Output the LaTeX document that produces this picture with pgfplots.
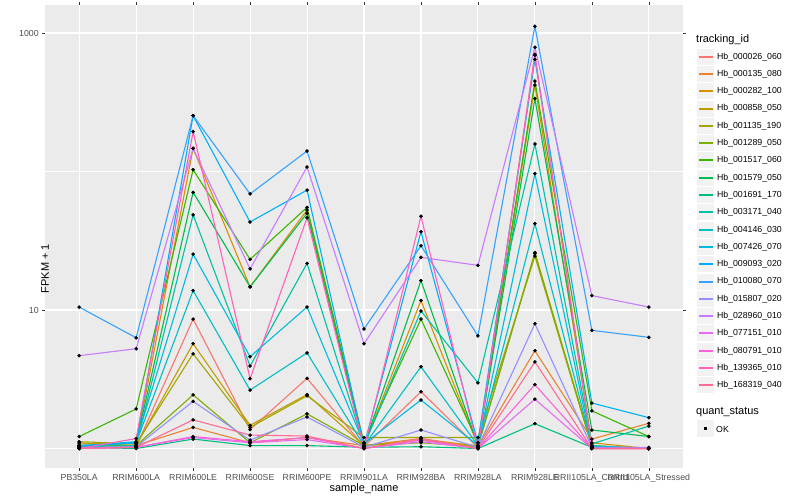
\documentclass[border=0pt]{standalone}
\usepackage{fontspec}
\setmainfont{Liberation Sans}
\usepackage{pgfplots}
\usepackage{pgfplotstable}
\pgfplotsset{compat=1.18}

\definecolor{c1}{HTML}{F8766D}
\definecolor{c2}{HTML}{EA8331}
\definecolor{c3}{HTML}{D89000}
\definecolor{c4}{HTML}{C09B00}
\definecolor{c5}{HTML}{A3A500}
\definecolor{c6}{HTML}{7CAE00}
\definecolor{c7}{HTML}{39B600}
\definecolor{c8}{HTML}{00BB4E}
\definecolor{c9}{HTML}{00BF7D}
\definecolor{c10}{HTML}{00C1A3}
\definecolor{c11}{HTML}{00BFC4}
\definecolor{c12}{HTML}{00BAE0}
\definecolor{c13}{HTML}{00B0F6}
\definecolor{c14}{HTML}{35A2FF}
\definecolor{c15}{HTML}{9590FF}
\definecolor{c16}{HTML}{C77CFF}
\definecolor{c17}{HTML}{E76BF3}
\definecolor{c18}{HTML}{FA62DB}
\definecolor{c19}{HTML}{FF62BC}
\definecolor{c20}{HTML}{FF6C91}
\definecolor{panel}{HTML}{EBEBEB}
\definecolor{keybg}{HTML}{F2F2F2}
\definecolor{gray30}{HTML}{4D4D4D}
\definecolor{gray20}{HTML}{333333}

% FPKM + 1 per sample (rows) and tracking_id (columns s1..s20)
\pgfplotstableread{
x  s1   s2   s3   s4   s5   s6   s7   s8   s9   s10  s11  s12  s13  s14   s15  s16   s17  s18  s19  s20
0  1.02 1.05 1.08 1.10 1.12 1.05 1.22 1.05 1.02 1.03 1.03 1.04 1.05 10.5  1.02 4.68  1.00 1.00 1.00 1.00
1  1.03 1.05 1.08 1.05 1.08 1.05 1.93 1.10 1.00 1.05 1.10 1.12 1.10 6.30  1.03 5.25  1.02 1.02 1.18 1.02
2  8.60 1.42 147  5.71 4.83 2.44 103  70.8 1.17 48.7 13.8 25.3 253  253   2.19 147   1.20 1.22 194  1.61
3  1.37 1.10 14.7 1.47 1.42 1.10 23.2 14.7 1.05 3.94 2.64 4.60 43.2 68.9  1.15 19.8  1.10 1.12 3.19 1.25
4  3.21 1.20 52.7 2.45 2.40 1.78 55.1 49.9 1.05 21.7 4.90 10.5 73.4 140.6 1.69 107.7 1.16 1.20 46.3 1.23
5  1.03 1.05 1.05 1.05 1.20 1.05 1.10 1.05 1.02 1.05 1.05 1.08 1.05 7.30  1.02 5.70  1.00 1.00 1.00 1.00
6  2.57 1.18 11.7 1.15 1.20 1.10 8.60 16.3 1.03 9.84 3.89 2.24 36.7 29.1  1.36 24.0  1.12 1.15 47.5 1.18
7  1.02 1.03 1.05 1.05 1.20 1.03 1.10 1.05 1.00 2.98 1.05 1.05 1.10 6.50  1.02 21.0  1.00 1.00 1.00 1.00
8  700  5.08 420  25.5 24.5 26.0 450  336  1.51 158  42.0 96.4 645  1117  7.96 789   2.27 2.89 690  4.22
9  1.02 1.17 1.10 1.05 1.03 1.04 1.87 1.36 1.02 1.08 1.05 1.03 2.13 7.13  1.02 12.7  1.00 1.00 1.00 1.00
10 1.00 1.52 1.00 1.00 1.00 1.00 1.22 1.22 1.00 1.45 1.00 1.00 1.67 6.35  1.02 10.5  1.00 1.00 1.00 1.00
}\data

\begin{document}
\begin{tikzpicture}
\path[use as bounding box] (0,0) rectangle (800bp,500bp);
\begin{axis}[
  at={(45bp,32bp)}, anchor=south west,
  scale only axis, width=638bp, height=463bp,
  ymode=log,
  xmin=-0.6, xmax=10.6,
  ymin=0.7232, ymax=1593,
  axis background/.style={fill=panel},
  axis line style={draw=none},
  xtick={0,...,10},
  xticklabels={PB350LA,RRIM600LA,RRIM600LE,RRIM600SE,RRIM600PE,RRIM901LA,RRIM928BA,RRIM928LA,RRIM928LE,RRII105LA\_Control,RRII105LA\_Stressed},
  ytick={10,1000}, yticklabels={10,1000},
  minor ytick={1,100},
  xmajorgrids, ymajorgrids, yminorgrids,
  major grid style={white, line width=1.07bp},
  minor grid style={white, line width=0.53bp},
  tick align=outside, major tick length=2.75bp, minor tick length=0pt,
  tick style={gray20, line width=0.53bp},
  tick label style={font=\fontsize{8.8}{10}\selectfont, text=gray30},
  xlabel={sample\_name}, ylabel={FPKM + 1},
  label style={font=\fontsize{11}{13}\selectfont},
  xlabel style={at={(axis description cs:0.5,0)}, anchor=center, yshift=-20.3bp},
  ylabel style={at={(axis description cs:0,0.5)}, anchor=center, xshift=-32bp},
  clip=false,
  legend entries={Hb\_000026\_060,Hb\_000135\_080,Hb\_000282\_100,Hb\_000858\_050,Hb\_001135\_190,Hb\_001289\_050,Hb\_001517\_060,Hb\_001579\_050,Hb\_001691\_170,Hb\_003171\_040,Hb\_004146\_030,Hb\_007426\_070,Hb\_009093\_020,Hb\_010080\_070,Hb\_015807\_020,Hb\_028960\_010,Hb\_077151\_010,Hb\_080791\_010,Hb\_139365\_010,Hb\_168319\_040},
  legend image code/.code={
    \path[draw=none, fill=keybg] (0bp,-8bp) rectangle (17bp,8bp);
    \path[draw=none, fill=none] (0bp,-8.65bp) rectangle (17bp,8.65bp);
    \draw[#1, line width=2bp] (1.5bp,0bp) -- (15.5bp,0bp);
  },
  legend style={at={(1.02194,0.90713)}, anchor=north west, draw=none, fill=none,
    inner sep=0pt, outer sep=0pt, row sep=0pt,
    font=\fontsize{8.8}{10}\selectfont,
    nodes={inner sep=0pt},
    /tikz/every odd column/.append style={column sep=3bp}},
  legend cell align=left,
]
\pgfplotsinvokeforeach{1,...,20}{
  \addplot[c#1, line width=1.1bp] table[x=x, y=s#1]{\data};
}
\pgfplotsinvokeforeach{1,...,20}{
  \addplot[only marks, mark=*, mark size=1.6bp, black, forget plot] table[x=x, y=s#1]{\data};
}
\end{axis}
\node[anchor=west, inner sep=0pt, font=\fontsize{11}{13}\selectfont] at (696bp,460bp) {tracking\_id};
\node[anchor=west, inner sep=0pt, font=\fontsize{11}{13}\selectfont] at (696bp,87.7bp) {quant\_status};
\fill[keybg] (697bp,62.5bp) rectangle (714bp,79.5bp);
\fill[black] (704bp,69.5bp) rectangle (707bp,72.5bp);
\node[anchor=west, inner sep=0pt, font=\fontsize{8.8}{10}\selectfont] at (716bp,71bp) {OK};
\end{tikzpicture}
\end{document}
